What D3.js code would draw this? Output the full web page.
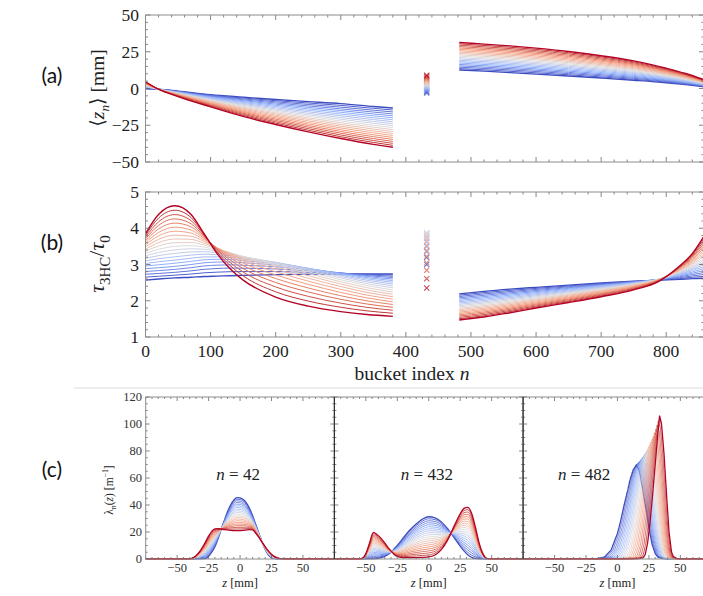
<!DOCTYPE html>
<html><head><meta charset="utf-8">
<script src="https://cdn.jsdelivr.net/npm/d3@7"></script>
<style>body{margin:0;background:#fff}svg{display:block}</style>
</head><body><svg id="c" width="703" height="596"></svg>
<script>
// ---------------- DATA ----------------
// (a) mean position <z_n> [mm] vs bucket index n : blue (first), lightest (middle), red (last) member of the family
const nLeftA  = [0, 20, 50, 100, 150, 200, 250, 300, 350, 380];
const zMeanLeftBlue = [-0.2, -0.5, -1.8, -4.2, -5.9, -7.5, -8.9, -10.3, -12.2, -13.3];
const zMeanLeftMid  = [2.2, -0.5, -3.4, -8.0, -12.1, -15.6, -18.9, -22.1, -25.0, -26.6];
const zMeanLeftRed  = [4.6, -0.5, -5.5, -12.5, -19.0, -24.5, -29.5, -34.0, -38.0, -40.0];
const nRightA = [482, 520, 560, 600, 650, 700, 750, 800, 830, 858];
const zMeanRightBlue = [12.6, 11.8, 10.8, 9.8, 8.5, 7.1, 5.6, 3.9, 2.6, 1.2];
const zMeanRightMid  = [22.0, 21.0, 19.9, 18.6, 16.8, 14.7, 12.2, 8.8, 6.4, 3.6];
const zMeanRightRed  = [31.3, 30.2, 29.0, 27.5, 25.2, 22.3, 18.8, 13.8, 10.2, 6.0];
const markerN = 432;
const zMeanMarkers = [-3.0,-2.4,-1.8,-1.2,-0.6,0.0,0.6,1.2,1.8,2.4,3.0,3.6,4.2,4.8,5.4,6.0,6.6,7.2,7.8,8.4,9.0];

// (b) bunch lengthening tau_3HC/tau_0
const nLeftB = [0, 20, 45, 70, 90, 110, 130, 150, 200, 250, 300, 340, 380];
const tauLeftBlue = [2.57, 2.60, 2.63, 2.65, 2.67, 2.68, 2.69, 2.70, 2.72, 2.73, 2.74, 2.74, 2.74];
const tauLeftMid  = [3.30, 3.42, 3.50, 3.52, 3.48, 3.40, 3.32, 3.22, 3.02, 2.80, 2.58, 2.42, 2.30];
const tauLeftRed  = [3.85, 4.38, 4.62, 4.38, 3.85, 3.30, 2.88, 2.57, 2.10, 1.85, 1.70, 1.62, 1.57];
const nRightB = [482, 520, 560, 600, 650, 700, 750, 790, 820, 840, 858];
const tauRightBlue = [2.19, 2.26, 2.32, 2.37, 2.43, 2.49, 2.54, 2.57, 2.59, 2.61, 2.62];
const tauRightMid  = [1.83, 1.90, 1.99, 2.08, 2.20, 2.32, 2.45, 2.60, 2.80, 2.97, 3.17];
const tauRightRed  = [1.47, 1.55, 1.67, 1.80, 1.95, 2.11, 2.30, 2.55, 2.95, 3.30, 3.78];
const tauMarkers = [3.00,3.19,3.36,3.50,3.62,3.72,3.79,3.84,3.87,3.87,3.85,3.81,3.74,3.65,3.53,3.39,3.23,3.05,2.84,2.61,2.35];

// (c) line densities lambda_n(z) [1/m]
const zGrid42 = [-60,-40,-37.5,-35,-32.5,-30,-27.5,-25,-22.5,-20,-17.5,-15,-12.5,-10,-7.5,-5,-2.5,0,2.5,5,7.5,10,12.5,15,17.5,20,22.5,25,27.5,30,32.5,35,60];
const lam42Blue = [0,0,0,0,0,0,0.3,2,5,9,15,22,28.5,35,40,43.5,45.5,45.3,44,41.5,37.5,32,25.5,19,12.5,7,3,1,0.2,0,0,0,0];
const lam42Red  = [0,0,0.8,2.5,5,8.5,12.5,17,20.5,22.3,22.5,22.2,21.8,21.5,21.2,21,21,21,21.2,21.5,21.8,21.5,19,16,12.5,9,6,3.5,1.8,0.7,0.2,0,0];
const zGrid432 = [-60,-55,-52,-50,-47,-44,-41,-38,-35,-32,-30,-27,-25,-20,-15,-10,-5,0,5,10,15,20,25,28,31,34,37,40,43,46,50,60];
const lam432Blue = [0,0,0,0,0,0,0.2,1,2,3.5,5,8,10,16,21.5,26,29.5,31.3,30.5,27.5,22.5,16,9.5,6,3.2,1.3,0.4,0,0,0,0,0];
const lam432Red  = [0,0,1,4,12,19.7,18,15.5,12,8,6,3,2,1,1,1,1.2,1.5,3,7,14,24,33.5,37.5,38.3,34,24,12,4,0.5,0,0];
const zBlue482 = [-20,-15,-10,-5,0,2.5,5,7.5,10,12.5,15,17.5,20,22.5,25,27.5,30,32.5,35,40];
const lamBlue482 = [0,0.3,1.7,6.7,19,28,38.7,48.5,58.5,66,69.6,65,52,38,23,11,4,1,0.2,0];
const zRed482 = [15,20,22,24,26,28,30,32,33.5,35,37,39,41,43,45,50];
const lamRed482 = [0,0.5,3,12,28,48,70,92,106,100,78,48,20,5,0.5,0];

// tick labels
const nTicks = [0,100,200,300,400,500,600,700,800];
const zMeanTicks = [50,25,0,-25,-50];
const tauTicks = [5,4,3,2,1];
const zTicksC = [-50,-25,0,25,50];
const lamTicks = [0,20,40,60,80,100,120];
const subplotN = ["42","432","482"];

// ---------------- DRAW ----------------
const SERIF = "'Liberation Serif','DejaVu Serif',serif";
const svg = d3.select('#c');
svg.append('rect').attr('width',703).attr('height',596).attr('fill','#fff');

const lineCount = 21;
const T = d3.range(lineCount).map(i => i/(lineCount-1));
const cmap = d3.piecewise(d3.interpolateLab, ["#3b4cc0","#8db0fe","#dddcdc","#f49a7b","#b40426"]);
const family3 = (B,M,R,t) => B.map((b,i)=> b*(1-t)*(1-2*t) + M[i]*4*t*(1-t) + R[i]*t*(2*t-1));
const family2 = (B,R,t) => B.map((b,i)=> b*(1-t) + R[i]*t);

const defs = svg.append('defs');
let clipId = 0;
function clip(x0,y0,x1,y1){ const id='cl'+(clipId++); defs.append('clipPath').attr('id',id).append('rect').attr('x',x0).attr('y',y0).attr('width',x1-x0).attr('height',y1-y0); return `url(#${id})`; }

function rich(parent, x, y, parts, size, anchor, rotate, family) {
  const t = parent.append('text').attr('font-family', family||SERIF).attr('font-size', size)
     .attr('text-anchor', anchor||'middle').attr('fill','#222');
  if (rotate) t.attr('transform', `translate(${x},${y}) rotate(-90)`); else t.attr('x',x).attr('y',y);
  let shift = 0;
  parts.forEach(p => {
    const s = t.append('tspan').text(p.t);
    const target = p.sub ? size*0.28 : p.sup ? -size*0.4 : 0;
    if (target !== shift) { s.attr('dy', target - shift); shift = target; }
    if (p.i) s.attr('font-style','italic');
    if (p.sub || p.sup) s.attr('font-size', size*0.68);
  });
  return t;
}

function frame(g, x0, x1, y0, y1, xS, yS, xMaj, xMin, yMaj, yMin, Lmaj, Lmin, col) {
  const tk = g.append('g').attr('stroke','#666').attr('stroke-width',0.8);
  xMin.forEach(v => { const x = xS(v); if (x < x0-0.5 || x > x1+0.5) return;
    const L = xMaj.some(m=>Math.abs(m-v)<1e-9) ? Lmaj : Lmin;
    tk.append('line').attr('x1',x).attr('x2',x).attr('y1',y0).attr('y2',y0+L);
    tk.append('line').attr('x1',x).attr('x2',x).attr('y1',y1).attr('y2',y1-L); });
  yMin.forEach(v => { const y = yS(v);
    const L = yMaj.some(m=>Math.abs(m-v)<1e-9) ? Lmaj : Lmin;
    tk.append('line').attr('x1',x0).attr('x2',x0+L).attr('y1',y).attr('y2',y);
    tk.append('line').attr('x1',x1).attr('x2',x1-L).attr('y1',y).attr('y2',y); });
  g.append('rect').attr('x',x0).attr('y',y0).attr('width',x1-x0).attr('height',y1-y0)
    .attr('fill','none').attr('stroke',col||'#8c8c8c').attr('stroke-width',1);
}

// ---- panel labels (a)(b)(c)
const SANS = "Lato,'Open Sans',sans-serif";
[["(a)",76],["(b)",243],["(c)",470]].forEach(([s,y]) =>
  svg.append('text').attr('x',52).attr('y',y).attr('font-family',SANS).attr('font-size',21)
     .attr('text-anchor','middle').attr('dy','0.35em').attr('fill','#111').text(s));

// ---- shared x scale for (a),(b)
const X0 = 145.5, X1 = 704;
const xN = d3.scaleLinear().domain([0, 858]).range([X0, X1]);
const nMinor = d3.range(0, 861, 20);

// ============ (a) ============
const yA = d3.scaleLinear().domain([-50, 50]).range([162, 15]);
const gA = svg.append('g');
const gAl = gA.append('g').attr('clip-path', clip(X0,15,X1,162));
const lineA = (xs) => d3.line().x((d,i)=>xN(xs[i])).y(d=>yA(d)).curve(d3.curveMonotoneX);
T.forEach(t => {
  const w = (t===0||t===1)?1.4:1;
  gAl.append('path').attr('d', lineA(nLeftA)(family3(zMeanLeftBlue,zMeanLeftMid,zMeanLeftRed,t)))
    .attr('fill','none').attr('stroke',cmap(t)).attr('stroke-width',w);
  gAl.append('path').attr('d', lineA(nRightA)(family3(zMeanRightBlue,zMeanRightMid,zMeanRightRed,t)))
    .attr('fill','none').attr('stroke',cmap(t)).attr('stroke-width',w);
});
function cross(g, x, y, c){ const s=2.6;
  g.append('path').attr('d',`M${x-s},${y-s}L${x+s},${y+s}M${x-s},${y+s}L${x+s},${y-s}`)
   .attr('stroke',c).attr('stroke-width',1.1).attr('fill','none').attr('opacity',0.75); }
zMeanMarkers.forEach((v,i)=> cross(gAl, xN(markerN), yA(v), cmap(T[i])));
frame(gA, X0, X1, 15, 162, xN, yA, nTicks, nMinor, zMeanTicks, d3.range(-50,51,5), 5, 2.5);
zMeanTicks.forEach(v => gA.append('text').attr('x',139).attr('y',yA(v)).attr('dy','0.35em')
  .attr('text-anchor','end').attr('font-family',SERIF).attr('font-size',17.5).attr('fill','#222')
  .text(v<0 ? '\u2212'+(-v) : String(v)));
rich(gA, 104, 88, [{t:'\u27E8'},{t:'z',i:true},{t:'n',i:true,sub:true},{t:'\u27E9 [mm]'}], 19.5, 'middle', true);

// ============ (b) ============
const yB = d3.scaleLinear().domain([1, 5]).range([337, 192]);
const gB = svg.append('g');
const gBl = gB.append('g').attr('clip-path', clip(X0,192,X1,337));
const lineB = (xs) => d3.line().x((d,i)=>xN(xs[i])).y(d=>yB(d)).curve(d3.curveMonotoneX);
T.forEach(t => {
  const w = (t===0||t===1)?1.4:1;
  gBl.append('path').attr('d', lineB(nLeftB)(family3(tauLeftBlue,tauLeftMid,tauLeftRed,t)))
    .attr('fill','none').attr('stroke',cmap(t)).attr('stroke-width',w);
  gBl.append('path').attr('d', lineB(nRightB)(family3(tauRightBlue,tauRightMid,tauRightRed,t)))
    .attr('fill','none').attr('stroke',cmap(t)).attr('stroke-width',w);
});
tauMarkers.forEach((v,i)=> cross(gBl, xN(markerN), yB(v), cmap(T[i])));
frame(gB, X0, X1, 192, 337, xN, yB, nTicks, nMinor, tauTicks, d3.range(1,5.001,0.2).map(v=>+v.toFixed(1)), 5, 2.5);
tauTicks.forEach(v => gB.append('text').attr('x',139).attr('y',yB(v)).attr('dy','0.35em')
  .attr('text-anchor','end').attr('font-family',SERIF).attr('font-size',17.5).attr('fill','#222').text(v));
nTicks.forEach(v => gB.append('text').attr('x',xN(v)).attr('y',357).attr('text-anchor','middle')
  .attr('font-family',SERIF).attr('font-size',17.5).attr('fill','#222').text(v));
rich(gB, 412, 380, [{t:'bucket index '},{t:'n',i:true}], 19.5, 'middle');
rich(gB, 104, 264, [{t:'\u03C4',i:true},{t:'3HC',sub:true},{t:'/'},{t:'\u03C4',i:true},{t:'0',sub:true}], 22, 'middle', true);

// separator
svg.append('line').attr('x1',74).attr('x2',703).attr('y1',388).attr('y2',388).attr('stroke','#dcdcdc');

// ============ (c) ============
const yC = d3.scaleLinear().domain([0,120]).range([559, 397]);
const CW = 188.7, CL = 145.7;
function quantiles(zs, vs) {
  const dz = 0.05, grid = d3.range(-75, 75.0001, dz);
  const d = grid.map(z => { if (z<=zs[0]||z>=zs[zs.length-1]) return 0;
    const i = d3.bisectRight(zs, z)-1, f=(z-zs[i])/(zs[i+1]-zs[i]); return vs[i]+(vs[i+1]-vs[i])*f; });
  const cdf=[0]; for (let i=1;i<grid.length;i++) cdf.push(cdf[i-1]+(d[i-1]+d[i])/2*dz);
  const m = cdf[cdf.length-1], NP = 800;
  const Q = d3.range(NP+1).map(k => { const p = Math.min(Math.max(k/NP,1e-7),1-1e-7)*m;
    let j = d3.bisectRight(cdf, p); if (j>=cdf.length) j=cdf.length-1; if (j<1) j=1;
    const f = (p-cdf[j-1])/((cdf[j]-cdf[j-1])||1); return grid[j-1]+f*dz; });
  return {Q, m, NP};
}
const q0 = quantiles(zBlue482, lamBlue482), q1 = quantiles(zRed482, lamRed482);
function displaced(t) {
  const NP = q0.NP, Qt = q0.Q.map((q,k)=>(1-t)*q + t*q1.Q[k]), mt = (1-t)*q0.m + t*q1.m;
  const pts = [[-75,0],[Qt[0],0]];
  for (let k=0;k<NP;k++){ const dz = Qt[k+1]-Qt[k]; if (dz>1e-9) pts.push([(Qt[k]+Qt[k+1])/2, mt/NP/dz]); }
  pts.push([Qt[NP],0],[75,0]); return pts;
}
for (let k=0;k<3;k++){
  const x0 = CL + k*CW, x1 = x0 + CW;
  const xC = d3.scaleLinear().domain([-75,75]).range([x0,x1]);
  const g = svg.append('g');
  const gl = g.append('g').attr('clip-path', clip(x0,397,x1,559.5));
  T.forEach(t => {
    let pts;
    if (k===0) pts = [[-75,0]].concat(zGrid42.map((z,i)=>[z, family2(lam42Blue,lam42Red,t)[i]]), [[75,0]]);
    else if (k===1) pts = [[-75,0]].concat(zGrid432.map((z,i)=>[z, family2(lam432Blue,lam432Red,t)[i]]), [[75,0]]);
    else pts = displaced(t);
    gl.append('path').attr('d', d3.line().x(d=>xC(d[0])).y(d=>yC(d[1])).curve(k===2?d3.curveLinear:d3.curveMonotoneX)(pts))
      .attr('fill','none').attr('stroke',cmap(t)).attr('stroke-width',(t===0||t===1)?1.3:0.9);
  });
  frame(g, x0, x1, 397, 559, xC, yC, zTicksC, d3.range(-75,76,5), lamTicks, d3.range(0,121,5), 4, 2, '#8c8c8c');
  if (k>0) g.append('line').attr('x1',x0).attr('x2',x0).attr('y1',397).attr('y2',559).attr('stroke','#333').attr('stroke-width',1.2);
  zTicksC.forEach(v => g.append('text').attr('x',xC(v)).attr('y',572).attr('text-anchor','middle')
    .attr('font-family',SERIF).attr('font-size',12.5).attr('fill','#333').text(v<0?'\u2212'+(-v):String(v)));
  rich(g, xC(0), 587, [{t:'z',i:true},{t:' [mm]'}], 12.5, 'middle');
  rich(g, k===2 ? x0+61 : xC(-1.5), 480, [{t:'n',i:true},{t:' = '+subplotN[k]}], 17, 'middle');
}
lamTicks.forEach(v => svg.append('text').attr('x',142).attr('y',yC(v)).attr('dy','0.35em').attr('text-anchor','end')
  .attr('font-family',SERIF).attr('font-size',12.5).attr('fill','#333').text(v));
rich(svg, 113, 490, [{t:'\u03BB'},{t:'n',i:true,sub:true},{t:'('},{t:'z',i:true},{t:') [m'},{t:'\u22121',sup:true},{t:']'}], 11.5, 'middle', true);
</script></body></html>
